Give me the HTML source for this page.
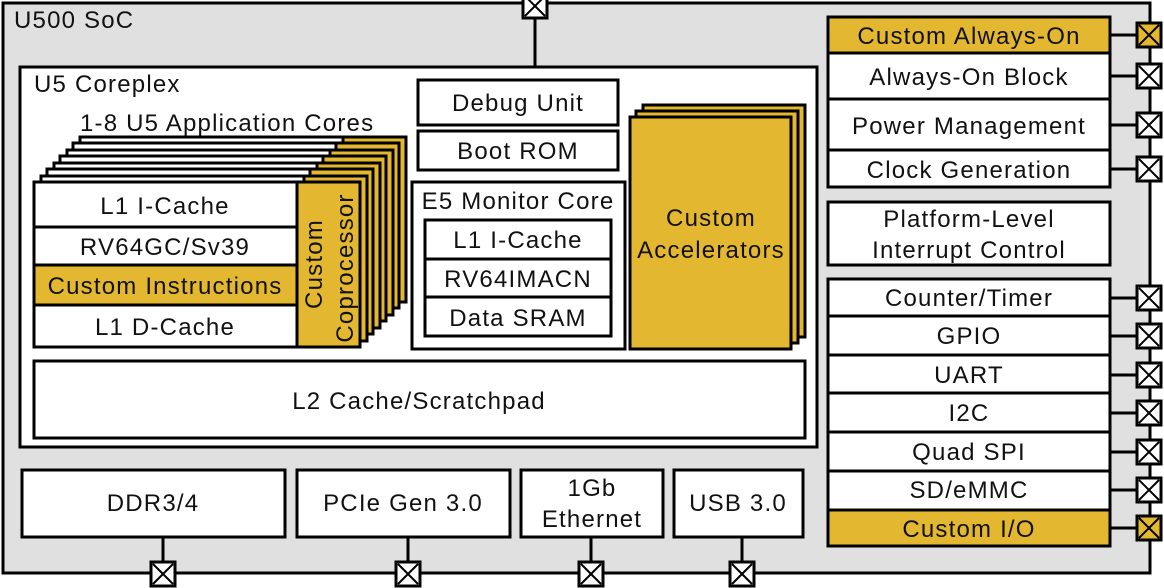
<!DOCTYPE html>
<html><head><style>html,body{margin:0;padding:0;background:#fff}svg{display:block}</style></head><body>
<svg width="1164" height="588" viewBox="0 0 1164 588" xmlns="http://www.w3.org/2000/svg" font-family="Liberation Sans, Arial, sans-serif" font-size="24" letter-spacing="1.2" fill="#111">
<defs>
<g id="pw"><rect x="-12" y="-12" width="24" height="24" fill="#fff" stroke="#000" stroke-width="3"/><path d="M-10 -10L10 10M10 -10L-10 10" stroke="#000" stroke-width="2"/></g>
<g id="py"><rect x="-12" y="-12" width="24" height="24" fill="#e3b830" stroke="#000" stroke-width="3"/><path d="M-10 -10L10 10M10 -10L-10 10" stroke="#000" stroke-width="2"/></g>
</defs>
<rect x="3" y="3" width="1147" height="570" fill="#e0e0e0" stroke="#000" stroke-width="3"/>
<text x="14" y="28">U500 SoC</text>
<line x1="535" y1="8" x2="535" y2="80" stroke="#000" stroke-width="3"/>
<use href="#pw" x="535" y="6"/>
<rect x="20" y="67" width="797" height="380" fill="#fff" stroke="#000" stroke-width="3"/>
<text x="34" y="92">U5 Coreplex</text>
<text x="80" y="131">1-8 U5 Application Cores</text>
<g stroke="#000" stroke-width="3">
<rect x="80" y="137" width="263" height="165" fill="#fff"/><rect x="343" y="137" width="63" height="165" fill="#e3b830"/>
<rect x="73" y="143" width="263" height="165" fill="#fff"/><rect x="336" y="143" width="63" height="165" fill="#e3b830"/>
<rect x="67" y="150" width="263" height="165" fill="#fff"/><rect x="330" y="150" width="63" height="165" fill="#e3b830"/>
<rect x="60" y="156" width="263" height="165" fill="#fff"/><rect x="323" y="156" width="63" height="165" fill="#e3b830"/>
<rect x="54" y="163" width="263" height="165" fill="#fff"/><rect x="317" y="163" width="63" height="165" fill="#e3b830"/>
<rect x="47" y="169" width="263" height="165" fill="#fff"/><rect x="310" y="169" width="63" height="165" fill="#e3b830"/>
<rect x="41" y="176" width="263" height="165" fill="#fff"/><rect x="304" y="176" width="63" height="165" fill="#e3b830"/>
<rect x="34" y="182" width="263" height="165" fill="#fff"/>
<rect x="34" y="265" width="263" height="40" fill="#e3b830"/>
<line x1="34" y1="227" x2="297" y2="227"/>
<rect x="297" y="182" width="63" height="165" fill="#e3b830"/>
</g>
<text x="165" y="214" text-anchor="middle">L1 I-Cache</text>
<text x="165" y="255" text-anchor="middle">RV64GC/Sv39</text>
<text x="165" y="294" text-anchor="middle">Custom Instructions</text>
<text x="165" y="335" text-anchor="middle">L1 D-Cache</text>
<text transform="translate(322,264) rotate(-90)" text-anchor="middle">Custom</text>
<text transform="translate(353,268) rotate(-90)" text-anchor="middle">Coprocessor</text>
<g stroke="#000" stroke-width="3" fill="#fff">
<rect x="418" y="80" width="200" height="45"/>
<rect x="418" y="131" width="200" height="39"/>
<rect x="412" y="182" width="213" height="167"/>
<rect x="425" y="220" width="186" height="116"/>
<line x1="425" y1="259" x2="611" y2="259"/><line x1="425" y1="297" x2="611" y2="297"/>
</g>
<text x="518" y="111" text-anchor="middle">Debug Unit</text>
<text x="518" y="159" text-anchor="middle">Boot ROM</text>
<text x="518" y="209" text-anchor="middle">E5 Monitor Core</text>
<text x="518" y="248" text-anchor="middle">L1 I-Cache</text>
<text x="518" y="287" text-anchor="middle">RV64IMACN</text>
<text x="518" y="326" text-anchor="middle">Data SRAM</text>
<g stroke="#000" stroke-width="3" fill="#e3b830">
<rect x="643" y="105" width="162" height="232"/>
<rect x="636" y="111" width="162" height="232"/>
<rect x="630" y="117" width="161" height="232"/>
</g>
<text x="711" y="226" text-anchor="middle">Custom</text>
<text x="711" y="258" text-anchor="middle">Accelerators</text>
<rect x="34" y="361" width="771" height="77" fill="#fff" stroke="#000" stroke-width="3"/>
<text x="419" y="409" text-anchor="middle">L2 Cache/Scratchpad</text>
<g stroke="#000" stroke-width="3">
<line x1="163" y1="537" x2="163" y2="570"/><line x1="408" y1="537" x2="408" y2="570"/><line x1="591" y1="537" x2="591" y2="570"/><line x1="742" y1="537" x2="742" y2="570"/>
</g>
<g stroke="#000" stroke-width="3" fill="#fff">
<rect x="22" y="470" width="263" height="67"/>
<rect x="297" y="470" width="213" height="67"/>
<rect x="521" y="470" width="142" height="67"/>
<rect x="674" y="470" width="129" height="67"/>
</g>
<text x="153" y="511" text-anchor="middle">DDR3/4</text>
<text x="403" y="511" text-anchor="middle">PCIe Gen 3.0</text>
<text x="592" y="496" text-anchor="middle">1Gb</text>
<text x="592" y="527" text-anchor="middle">Ethernet</text>
<text x="738" y="511" text-anchor="middle">USB 3.0</text>
<use href="#pw" x="163" y="574"/><use href="#pw" x="408" y="574"/><use href="#pw" x="591" y="574"/><use href="#pw" x="742" y="574"/>
<g stroke="#000" stroke-width="3">
<line x1="1110" y1="35" x2="1149" y2="35"/><line x1="1110" y1="76" x2="1149" y2="76"/><line x1="1110" y1="125" x2="1149" y2="125"/><line x1="1110" y1="169" x2="1149" y2="169"/>
<line x1="1110" y1="298" x2="1149" y2="298"/><line x1="1110" y1="336" x2="1149" y2="336"/><line x1="1110" y1="375" x2="1149" y2="375"/><line x1="1110" y1="413" x2="1149" y2="413"/><line x1="1110" y1="452" x2="1149" y2="452"/><line x1="1110" y1="490" x2="1149" y2="490"/><line x1="1110" y1="528" x2="1149" y2="528"/>
</g>
<g stroke="#000" stroke-width="3" fill="#fff">
<rect x="828" y="17" width="282" height="170"/>
<rect x="828" y="17" width="282" height="36" fill="#e3b830"/>
<line x1="828" y1="99" x2="1110" y2="99"/><line x1="828" y1="150" x2="1110" y2="150"/>
<rect x="828" y="202" width="282" height="63"/>
<rect x="828" y="279" width="282" height="267"/>
<line x1="828" y1="316" x2="1110" y2="316"/><line x1="828" y1="355" x2="1110" y2="355"/><line x1="828" y1="393" x2="1110" y2="393"/><line x1="828" y1="432" x2="1110" y2="432"/><line x1="828" y1="471" x2="1110" y2="471"/>
<rect x="828" y="510" width="282" height="36" fill="#e3b830"/>
</g>
<g text-anchor="middle">
<text x="969" y="44">Custom Always-On</text>
<text x="969" y="85">Always-On Block</text>
<text x="969" y="134">Power Management</text>
<text x="969" y="178">Clock Generation</text>
<text x="969" y="227">Platform-Level</text>
<text x="969" y="258">Interrupt Control</text>
<text x="969" y="306">Counter/Timer</text>
<text x="969" y="344">GPIO</text>
<text x="969" y="383">UART</text>
<text x="969" y="421">I2C</text>
<text x="969" y="460">Quad SPI</text>
<text x="969" y="498">SD/eMMC</text>
<text x="969" y="537">Custom I/O</text>
</g>
<use href="#py" x="1149" y="35"/><use href="#pw" x="1149" y="76"/><use href="#pw" x="1149" y="125"/><use href="#pw" x="1149" y="169"/>
<use href="#pw" x="1149" y="298"/><use href="#pw" x="1149" y="336"/><use href="#pw" x="1149" y="375"/><use href="#pw" x="1149" y="413"/><use href="#pw" x="1149" y="452"/><use href="#pw" x="1149" y="490"/><use href="#py" x="1149" y="528"/>
</svg>
</body></html>
